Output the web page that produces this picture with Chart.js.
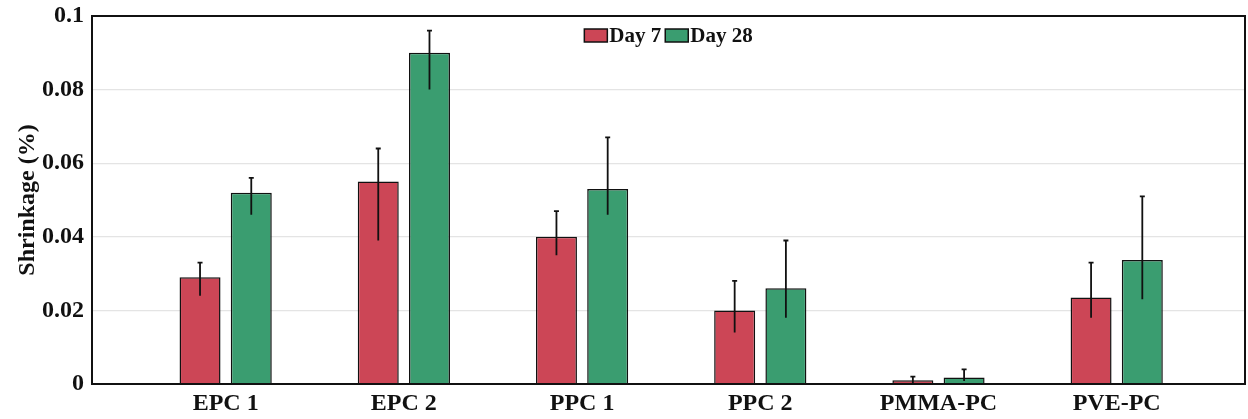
<!DOCTYPE html>
<html>
<head>
<meta charset="utf-8">
<script src="https://cdn.jsdelivr.net/npm/chart.js@4/dist/chart.umd.min.js"></script>
<style>
  html, body { margin: 0; padding: 0; background: #fff; }
  #wrap { width: 1248px; height: 419px; }
</style>
</head>
<body>
<div id="wrap"><canvas id="c" width="1248" height="419"></canvas></div>
<script>
// Specimen groups
const categories = ['EPC 1', 'EPC 2', 'PPC 1', 'PPC 2', 'PMMA-PC', 'PVE-PC'];

// Shrinkage (%) at day 7, with error bar ends
const day7     = [0.029, 0.055, 0.040, 0.020, 0.001, 0.0235];
const day7Hi   = [0.033, 0.064, 0.047, 0.028, 0.002, 0.033];
const day7Lo   = [0.024, 0.039, 0.035, 0.014, 0.000, 0.018];

// Shrinkage (%) at day 28, with error bar ends
const day28    = [0.052, 0.090, 0.053, 0.026, 0.0018, 0.0337];
const day28Hi  = [0.056, 0.096, 0.067, 0.039, 0.004, 0.051];
const day28Lo  = [0.046, 0.080, 0.046, 0.018, 0.0008, 0.023];

// Y axis ticks
const yTicks = [0, 0.02, 0.04, 0.06, 0.08, 0.1];

const seriesNames = ['Day 7', 'Day 28'];
const errHi = [day7Hi, day28Hi];
const errLo = [day7Lo, day28Lo];

const FONT = "'Liberation Serif', 'Times New Roman', serif";

const toPoints = arr => arr.map((v, i) => ({ x: i, y: v }));

// Error bars drawn through the value scale
const errorBars = {
  id: 'errorBars',
  afterDatasetsDraw(chart) {
    const ctx = chart.ctx;
    const ys = chart.scales.y;
    ctx.save();
    ctx.strokeStyle = '#111';
    ctx.lineWidth = 1.8;
    chart.data.datasets.forEach((ds, di) => {
      const meta = chart.getDatasetMeta(di);
      meta.data.forEach((bar, i) => {
        const x = bar.x;
        const yh = ys.getPixelForValue(errHi[di][i]);
        const yl = ys.getPixelForValue(errLo[di][i]);
        ctx.beginPath();
        ctx.moveTo(x, yh); ctx.lineTo(x, yl);
        ctx.moveTo(x - 2.5, yh); ctx.lineTo(x + 2.5, yh);
        ctx.stroke();
      });
    });
    ctx.restore();
  }
};

// Frame round the plot and the legend inside it
const frameAndLegend = {
  id: 'frameAndLegend',
  afterDraw(chart) {
    const ctx = chart.ctx;
    const a = chart.chartArea;
    ctx.save();
    ctx.strokeStyle = '#111';
    ctx.lineWidth = 2;
    ctx.strokeRect(a.left, a.top, a.right - a.left, a.bottom - a.top);

    ctx.font = 'bold 21px ' + FONT;
    ctx.textBaseline = 'middle';
    const boxW = 23, boxH = 13, gap = 2, itemGap = 4;
    const items = chart.data.datasets.map(ds => ({
      text: ds.label, color: ds.backgroundColor,
      w: boxW + gap + ctx.measureText(ds.label).width
    }));
    const total = items.reduce((s, it) => s + it.w, 0) + itemGap * (items.length - 1);
    let x = (a.left + a.right) / 2 - total / 2;
    const cy = 35.5;
    items.forEach(it => {
      ctx.fillStyle = it.color;
      ctx.fillRect(x, cy - boxH / 2, boxW, boxH);
      ctx.lineWidth = 1.5;
      ctx.strokeStyle = '#111';
      ctx.strokeRect(x, cy - boxH / 2, boxW, boxH);
      ctx.fillStyle = '#111';
      ctx.textAlign = 'left';
      ctx.fillText(it.text, x + boxW + gap, cy + 1);
      x += it.w + itemGap;
    });
    ctx.restore();
  }
};

new Chart(document.getElementById('c'), {
  type: 'bar',
  data: {
    datasets: [
      {
        label: seriesNames[0],
        data: toPoints(day7),
        backgroundColor: 'rgb(204,70,86)',
        borderColor: '#111',
        borderWidth: 1.5
      },
      {
        label: seriesNames[1],
        data: toPoints(day28),
        backgroundColor: 'rgb(58,157,112)',
        borderColor: '#111',
        borderWidth: 1.5
      }
    ]
  },
  options: {
    responsive: false,
    animation: false,
    devicePixelRatio: 1,
    categoryPercentage: 0.575,
    barPercentage: 0.80,
    layout: { padding: { left: 0, right: 3, top: 16, bottom: 0 } },
    plugins: {
      legend: { display: false },
      tooltip: { enabled: false }
    },
    scales: {
      x: {
        type: 'linear',
        min: -0.75,
        max: 5.72,
        offset: false,
        afterBuildTicks: s => { s.ticks = categories.map((_, i) => ({ value: i })); },
        afterFit: s => { s.height = 35; },
        grid: { display: false, offset: false, drawTicks: false },
        border: { display: true, color: '#111', width: 2 },
        ticks: {
          autoSkip: false,
          maxRotation: 0,
          padding: 5,
          color: '#111',
          font: { family: FONT, size: 24, weight: 'bold' },
          callback: v => categories[v]
        }
      },
      y: {
        min: 0,
        max: 0.1,
        afterBuildTicks: s => { s.ticks = yTicks.map(v => ({ value: v })); },
        afterFit: s => { s.width = 92; s.paddingTop = 0; s.paddingBottom = 0; },
        grid: { color: '#e4e4e4', lineWidth: 1.2, drawTicks: false },
        border: { display: true, color: '#111', width: 2 },
        ticks: {
          padding: 8,
          color: '#111',
          font: { family: FONT, size: 24, weight: 'bold' },
          callback: v => String(Number(v.toFixed(2)))
        },
        title: {
          display: true,
          text: 'Shrinkage (%)',
          color: '#111',
          padding: { top: 13, bottom: 0 },
          font: { family: FONT, size: 24, weight: 'bold' }
        }
      }
    }
  },
  plugins: [errorBars, frameAndLegend]
});
</script>
</body>
</html>
